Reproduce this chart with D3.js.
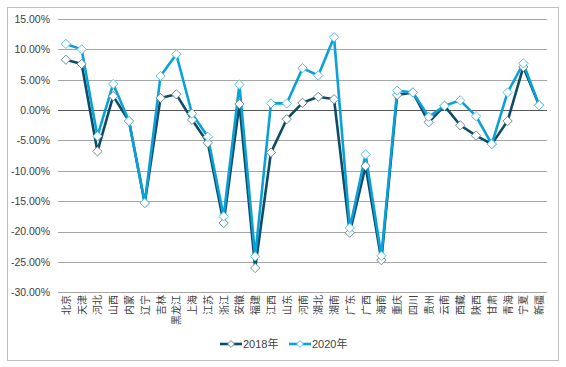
<!DOCTYPE html>
<html><head><meta charset="utf-8">
<script src="https://cdn.jsdelivr.net/npm/d3@7"></script>
<style>
html,body{margin:0;padding:0;background:#fff;}
svg{display:block;font-family:"Liberation Sans",Arial,sans-serif;}
</style></head>
<body><svg id="c" width="566" height="367"></svg>
<script>
const categories = ["北京","天津","河北","山西","内蒙","辽宁","吉林","黑龙江","上海","江苏","浙江","安徽","福建","江西","山东","河南","湖北","湖南","广东","广西","海南","重庆","四川","贵州","云南","西藏","陕西","甘肃","青海","宁夏","新疆"];
const values2018 = [8.3,7.6,-6.8,2.3,-1.8,-15.3,2.0,2.6,-1.6,-5.4,-18.6,1.0,-26.0,-7.0,-1.5,1.2,2.2,1.8,-20.2,-9.2,-24.7,2.5,2.9,-2.0,0.7,-2.5,-4.2,-5.6,-1.8,7.1,0.8];
const values2020 = [10.9,10.0,-4.3,4.3,-1.8,-15.3,5.6,9.2,-0.6,-4.4,-17.5,4.2,-24.1,1.1,1.1,6.9,5.7,12.0,-19.4,-7.3,-24.0,3.2,2.9,-1.1,0.7,1.6,-1.0,-5.6,2.9,7.7,0.8];
const yTicks = [15,10,5,0,-5,-10,-15,-20,-25,-30];
const seriesNames = ["2018年","2020年"];

const svg = d3.select("#c");
svg.append("rect").attr("x",7.5).attr("y",7.5).attr("width",551).attr("height",353)
  .attr("fill","#fff").attr("stroke","#bfbfbf").attr("stroke-width",1);

const x = d3.scaleBand().domain(categories).range([58,547]);
const y = d3.scaleLinear().domain([-30,15]).range([292.3,19]);

// gridlines
svg.append("g").selectAll("line").data(yTicks).join("line")
  .attr("x1",58).attr("x2",547)
  .attr("y1",d=>Math.round(y(d))+0.5).attr("y2",d=>Math.round(y(d))+0.5)
  .attr("stroke",d=>d===0?"#595959":"#a6a6a6").attr("stroke-width",1);

// y axis labels
const yAxis = d3.axisLeft(y).tickValues(yTicks).tickSize(0).tickPadding(0)
  .tickFormat(d=>d.toFixed(2)+"%");
const ya = svg.append("g").attr("transform","translate(50,0)").call(yAxis);
ya.select(".domain").remove();
ya.selectAll("text").attr("font-size","10.5px").attr("fill","#404040")
  .attr("font-family","'Liberation Sans',Arial,sans-serif");

// x axis labels
const xAxis = d3.axisBottom(x).tickSize(0).tickPadding(0);
const xa = svg.append("g").attr("transform","translate(0,293)").call(xAxis);
xa.select(".domain").remove();
xa.selectAll("text")
  .attr("font-size","10px").attr("fill","#404040")
  .attr("font-family","'Noto Sans CJK SC',sans-serif")
  .attr("text-anchor","end").attr("dy",null)
  .attr("transform","translate(4,2) rotate(-90)")
  .attr("dominant-baseline","auto");

const cx = d => x(d) + x.bandwidth()/2;
const series = [
  {name:seriesNames[0], vals:values2018, color:"#0e4c66", mk:"#6c8e9c"},
  {name:seriesNames[1], vals:values2020, color:"#0aa1d8", mk:"#55c3ea"}
];
const line = d3.line().x((d,i)=>cx(categories[i])).y(d=>y(d));
const diamond = d3.symbol().type(d3.symbolDiamond2).size(55);

series.forEach(s=>{
  svg.append("path").datum(s.vals).attr("d",line)
    .attr("fill","none").attr("stroke",s.color).attr("stroke-width",2.6)
    .attr("stroke-linejoin","round");
});
series.forEach(s=>{
  svg.append("g").selectAll("path").data(s.vals).join("path")
    .attr("d",diamond)
    .attr("transform",(d,i)=>`translate(${cx(categories[i])},${y(d)})`)
    .attr("fill","#fff").attr("stroke",s.mk).attr("stroke-width",1);
});

// legend
const leg = svg.append("g").attr("transform","translate(220,344)");
const legX = [0,69];
series.forEach((s,i)=>{
  const g = leg.append("g").attr("transform",`translate(${legX[i]},0)`);
  g.append("line").attr("x1",0).attr("x2",22).attr("y1",0).attr("y2",0)
    .attr("stroke",s.color).attr("stroke-width",2.6);
  g.append("path").attr("d",d3.symbol().type(d3.symbolDiamond2).size(30))
    .attr("transform","translate(11,0)").attr("fill","#fff").attr("stroke",s.mk);
  g.append("text").attr("x",23).attr("y",4).attr("font-size","11px").attr("fill","#404040")
    .attr("font-family","'Liberation Sans','Noto Sans CJK SC',sans-serif").text(s.name);
});
</script></body></html>
